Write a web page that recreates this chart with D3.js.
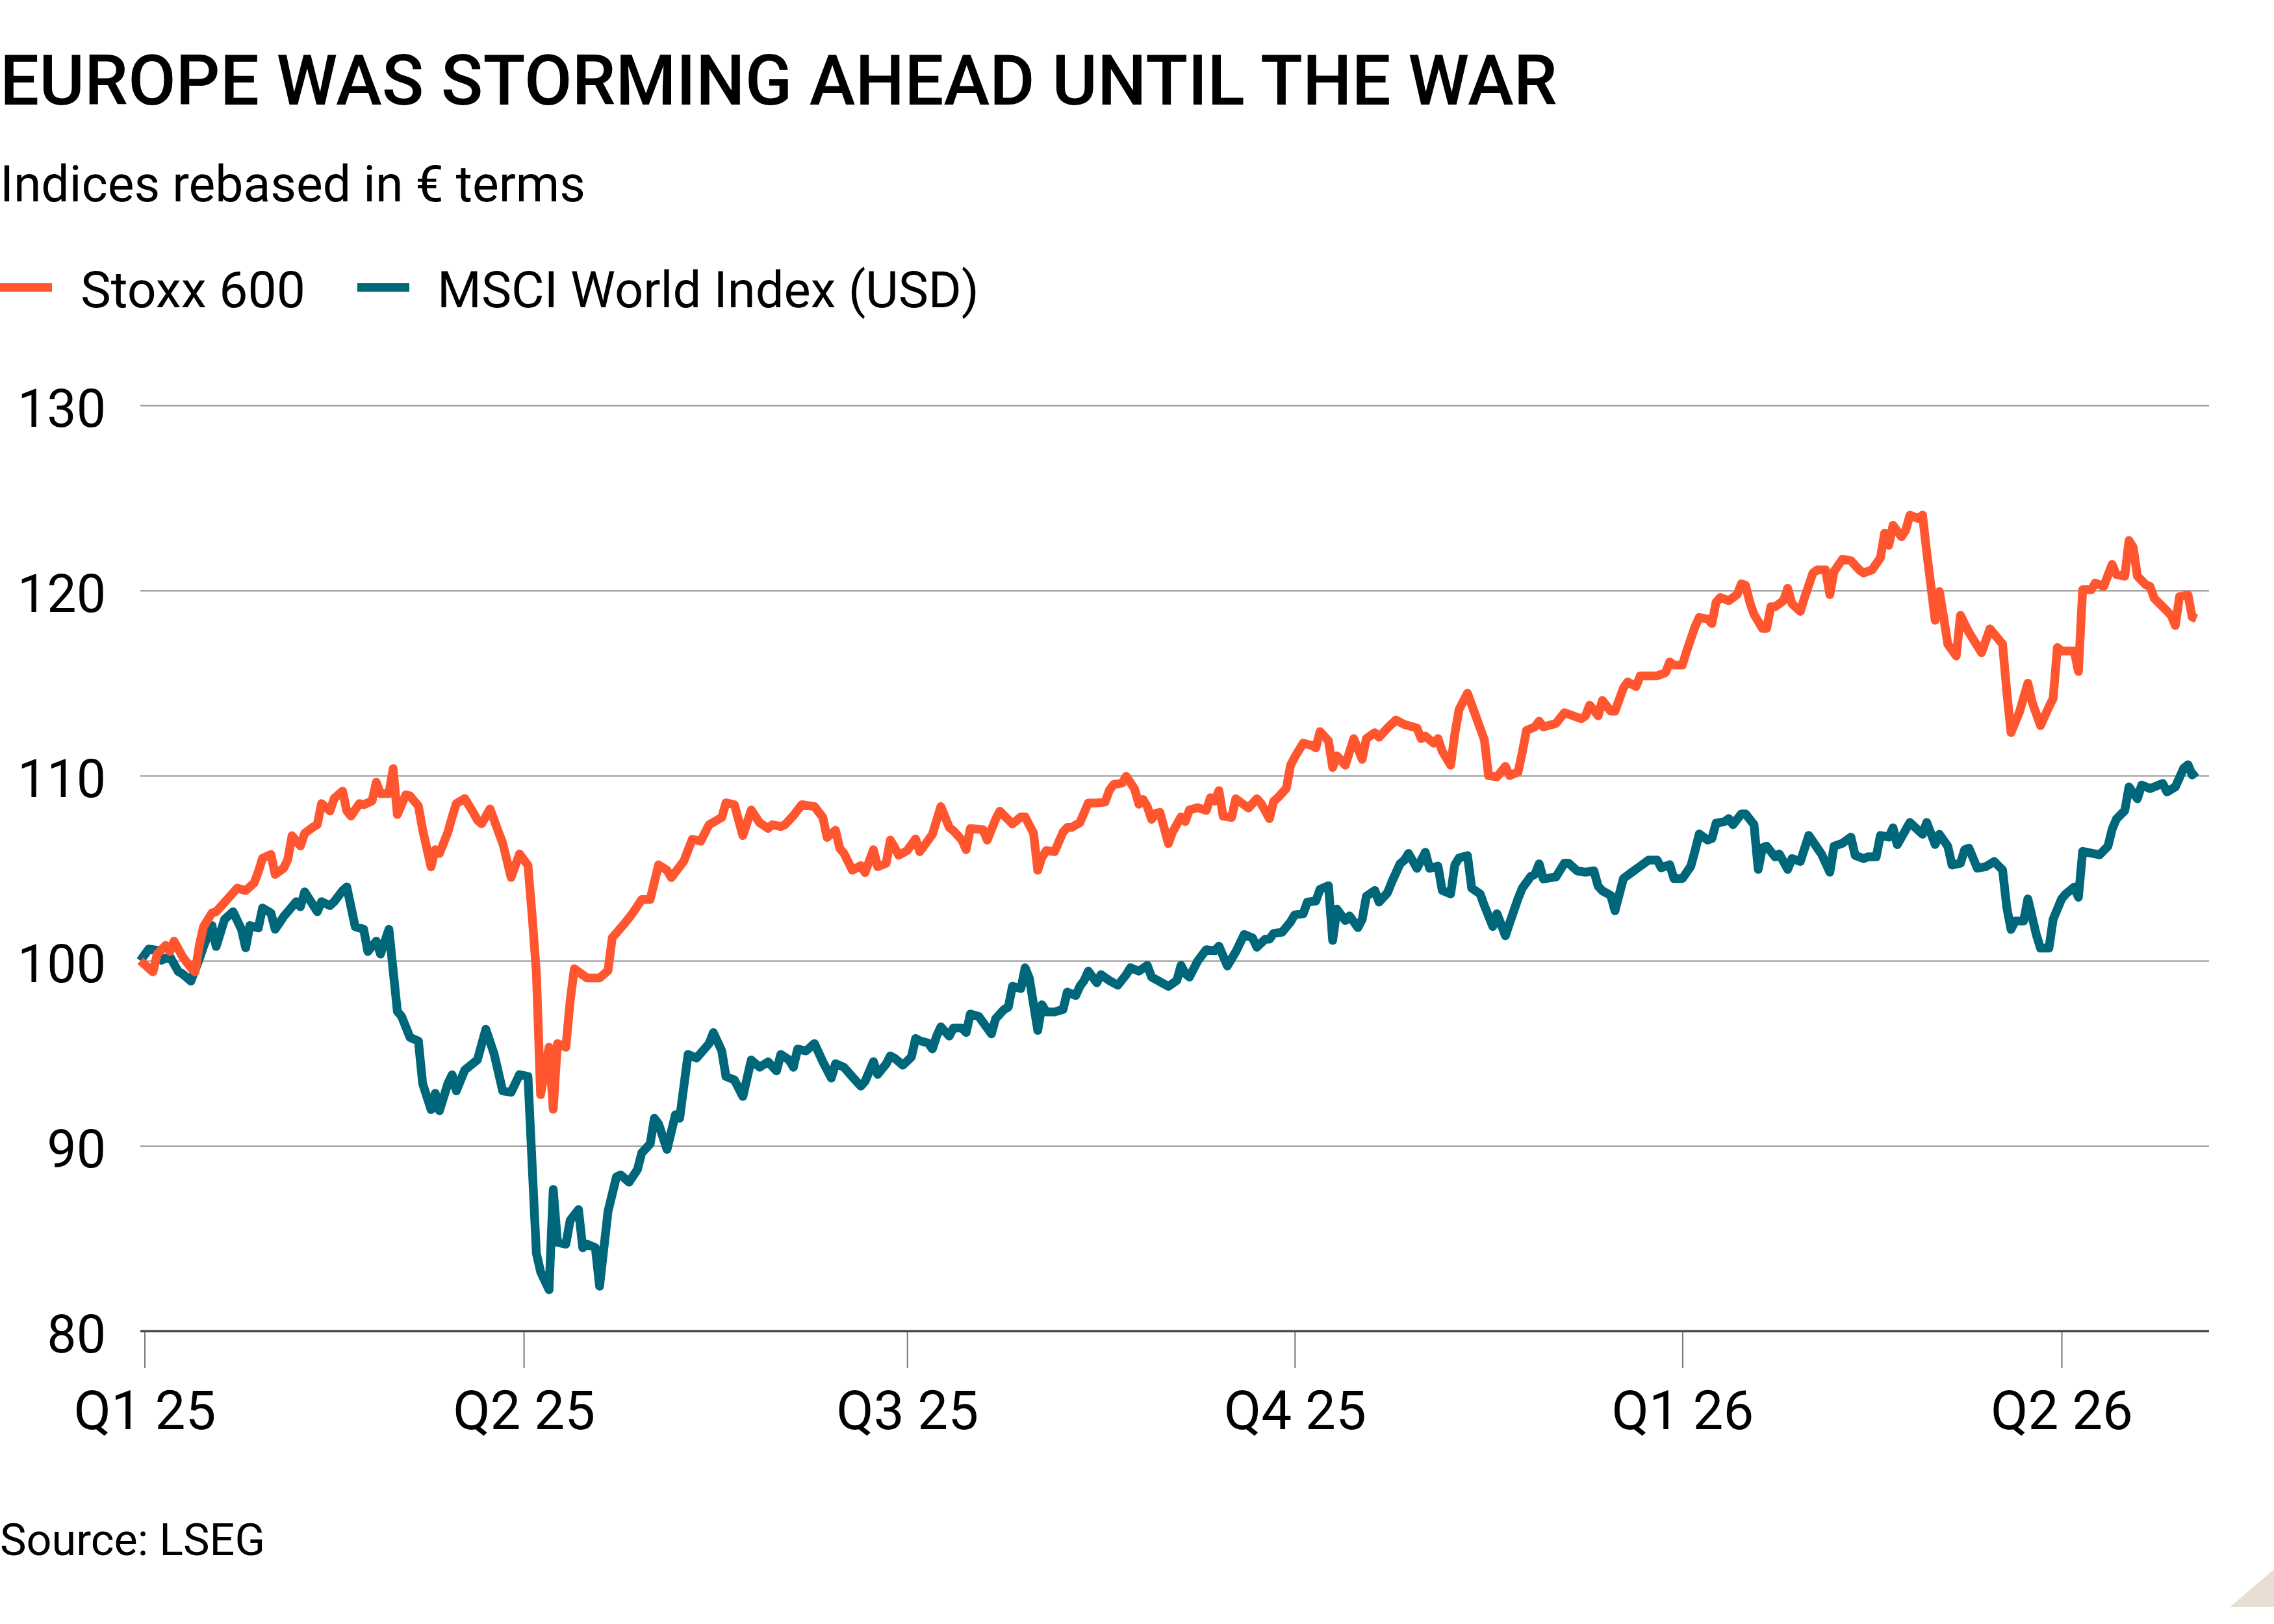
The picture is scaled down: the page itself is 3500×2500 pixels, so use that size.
<!DOCTYPE html>
<html><head><meta charset="utf-8">
<script src="https://cdn.jsdelivr.net/npm/d3@7"></script>
<style>
html,body{margin:0;padding:0;background:#fff;}
svg{display:block;}
text{font-family:Roboto,"Open Sans",sans-serif;fill:#000;}
</style></head><body>
<svg id="chart" width="3500" height="2500"></svg>
<script>
// ---------- DATA ----------
const titleText = "EUROPE WAS STORMING AHEAD UNTIL THE WAR";
const subtitleText = "Indices rebased in € terms";
const sourceText = "Source: LSEG";
const seriesNames = ["Stoxx 600", "MSCI World Index (USD)"];
const seriesColors = ["#ff5630", "#00677a"];

// day offsets counted from 1 Jan 2025
const stoxxDays = [
 -1,2,3,5,6,7,9,11,12,13,14,16,17,22,24,26,27,28,30,31,33,34,35,37,38,40,41,42,44,45,47,48,49,51,52,54,55,56,58,59,60,62,63,65,66,68,69,70,72,73,74,76,78,79,80,82,
 84,85,87,89,91,92,93,94,96,97,98,100,101,102,105,108,110,111,114,116,118,120,122,124,125,128,130,132,134,137,138,140,142,144,146,148,149,151,152,154,156,159,161,162,164,165,166,
 168,170,171,173,174,176,177,178,179,181,183,184,187,189,191,192,194,195,196,199,200,202,203,206,208,209,211,212,213,214,216,218,219,220,222,224,226,228,229,230,232,233,235,236,237,238,239,240,241,243,244,246,247,248,250,
 252,253,254,255,256,258,259,262,264,265,267,268,269,271,272,273,275,277,278,279,281,282,283,285,287,289,290,292,293,295,297,299,302,303,304,306,307,308,310,311,312,314,315,317,318,319,321,323,324,326,327,328,330,331,332,
 335,337,338,341,342,343,345,346,348,349,351,352,354,355,359,361,362,363,365,366,368,369,371,372,373,374,376,378,379,380,381,382,384,385,386,387,389,390,391,393,394,396,397,399,400,401,403,405,407,408,410,412,413,414,415,417,
 418,419,421,422,423,425,426,427,428,430,431,433,436,438,441,442,443,444,445,447,448,450,452,453,454,455,458,459,460,462,463,465,467,468,470,471,472,473,475,476,477,479,481,482,483,485,486,487
];
const stoxxValues = [
 100.0,99.4,100.36,100.83,100.5,101.06,100.23,99.62,99.4,100.83,101.84,102.58,102.65,103.92,103.79,104.2,104.8,105.54,105.74,104.66,105.0,105.47,106.75,106.2,106.88,107.22,107.35,108.49,108.09,108.76,109.17,108.09,107.82,108.49,108.43,108.63,109.64,109.03,109.03,110.38,107.9,108.96,108.9,108.36,107.08,105.07,106.0,105.8,106.95,107.76,108.49,108.76,108.02,107.6,107.4,108.2,
 106.96,106.36,104.5,105.77,105.15,102.42,99.37,92.77,95.33,91.98,95.53,95.33,97.79,99.57,99.07,99.07,99.47,101.24,102.03,102.62,103.31,103.31,105.18,104.89,104.49,105.38,106.56,106.46,107.35,107.74,108.53,108.43,106.76,108.14,107.45,107.15,107.35,107.25,107.35,107.84,108.43,108.33,107.74,106.66,107.05,106.07,105.8,
 104.89,105.14,104.76,106.0,105.08,105.26,106.52,106.14,105.7,105.95,106.58,105.89,106.83,108.33,107.2,107.02,106.52,106.0,107.14,107.08,106.52,107.64,108.08,107.39,107.77,107.77,106.89,104.89,105.58,105.95,105.89,106.95,107.2,107.2,107.46,108.52,108.52,108.58,109.21,109.52,109.59,109.96,109.27,108.46,108.71,108.33,107.64,107.96,108.02,106.33,106.95,107.77,107.52,108.15,108.27,
 108.12,108.81,108.62,109.19,107.81,107.74,108.75,108.25,108.75,108.5,107.68,108.62,108.81,109.31,110.56,111.0,111.75,111.63,111.5,112.38,111.88,110.44,111.07,110.56,112.0,110.88,112.0,112.32,112.07,112.57,113.0,112.76,112.57,112.0,112.13,111.75,112.0,111.32,110.56,112.26,113.57,114.45,113.82,112.57,111.94,110.0,109.94,110.5,110.0,110.19,111.25,112.44,112.63,112.94,112.63,
 112.82,113.4,113.32,113.07,113.23,113.81,113.23,114.06,113.48,113.48,114.73,115.06,114.81,115.39,115.39,115.56,116.14,115.97,115.97,116.72,118.04,118.54,118.46,118.21,119.37,119.62,119.45,119.78,120.36,120.28,119.37,118.71,117.96,117.96,119.12,119.12,119.45,120.12,119.29,118.87,119.62,120.95,121.11,121.11,119.78,121.03,121.69,121.61,121.11,120.95,121.11,121.77,123.1,122.44,123.52,122.9,
 123.25,124.07,123.89,124.07,122.06,118.39,119.94,118.57,117.1,116.46,118.66,117.74,116.64,117.93,117.1,114.53,112.33,112.88,113.43,114.99,113.98,112.7,113.71,114.17,116.92,116.73,116.73,115.63,120.04,120.04,120.4,120.22,121.41,120.86,120.77,122.7,122.33,120.77,120.31,120.22,119.58,119.12,118.66,118.11,119.67,119.76,118.57,118.48
];

const msciDays = [
 -1,1,3,4,6,8,9,11,13,14,16,17,19,21,23,24,25,27,28,30,31,33,34,36,37,38,41,42,44,45,47,48,50,52,53,55,56,58,60,61,63,65,66,68,69,70,72,73,74,76,79,81,
 83,85,87,89,91,92,93,94,96,97,98,100,101,103,104,105,107,108,110,112,113,115,117,118,120,121,122,124,126,127,129,131,134,135,137,138,140,142,144,146,148,150,151,153,154,155,157,159,161,163,164,166,
 168,170,171,173,174,176,177,178,180,182,183,184,186,187,188,189,191,192,194,195,196,198,201,202,204,205,206,208,209,210,212,213,214,216,218,219,221,222,223,224,226,227,229,231,233,234,236,238,239,243,245,246,247,248,250,
 252,254,255,257,259,261,263,264,266,267,268,270,272,273,275,276,278,279,281,282,283,285,286,288,289,290,292,293,295,296,298,299,300,302,304,305,307,308,310,311,312,314,315,317,318,320,321,323,324,326,327,329,330,331,332,
 335,337,338,340,342,344,345,346,348,349,351,353,355,357,359,360,362,363,365,367,368,369,371,372,373,375,376,377,379,380,382,383,384,385,387,388,390,391,393,395,397,398,400,401,403,405,406,408,409,411,412,414,415,416,
 419,422,423,425,426,428,429,431,432,433,435,437,439,441,442,443,444,446,447,449,450,452,453,455,456,458,459,460,464,466,467,468,470,471,473,474,476,479,480,482,484,485,486,487
];
const msciValues = [
 100.0,100.63,100.56,100.03,100.23,99.42,99.29,98.9,100.1,100.77,101.9,100.77,102.24,102.65,101.7,100.7,101.9,101.77,102.85,102.58,101.7,102.38,102.65,103.19,102.92,103.72,102.65,103.19,102.98,103.19,103.79,103.99,101.84,101.7,100.5,101.06,100.36,101.7,97.27,97.0,95.86,95.66,93.37,91.96,92.84,91.9,93.37,93.84,92.97,94.1,94.65,96.3,
 94.94,92.97,92.9,93.85,93.75,88.93,84.2,83.2,82.23,87.65,84.79,84.69,85.97,86.56,84.5,84.69,84.5,82.42,86.46,88.33,88.43,88.04,88.73,89.62,90.11,91.49,91.19,89.81,91.68,91.49,94.94,94.74,95.53,96.12,95.13,93.75,93.56,92.67,94.64,94.25,94.54,94.05,94.94,94.64,94.25,95.23,95.13,95.53,94.54,93.66,94.44,94.25,
 93.73,93.23,93.48,94.55,93.86,94.42,94.86,94.74,94.36,94.8,95.8,95.68,95.55,95.24,95.93,96.43,95.93,96.37,96.37,96.12,97.12,96.99,96.05,96.87,97.37,97.49,98.62,98.5,99.62,99.06,96.24,97.62,97.24,97.24,97.37,98.31,98.12,98.62,98.93,99.44,98.81,99.25,98.93,98.68,99.25,99.62,99.44,99.75,99.12,98.62,98.93,99.75,99.31,99.12,100.0,
 100.6,100.54,100.79,99.72,100.48,101.42,101.23,100.73,101.17,101.17,101.48,101.54,102.1,102.48,102.54,103.17,103.23,103.86,104.05,101.1,102.79,102.17,102.42,101.79,102.23,103.48,103.8,103.17,103.67,104.24,105.24,105.43,105.8,104.99,105.86,104.99,105.11,103.8,103.61,105.18,105.55,105.68,103.92,103.61,102.98,101.85,102.54,101.35,102.04,103.36,103.92,104.55,104.67,105.24,104.42,
 104.53,105.27,105.27,104.86,104.78,104.86,104.03,103.78,103.53,102.7,104.44,104.78,105.11,105.44,105.44,105.02,105.19,104.44,104.44,105.11,105.94,106.85,106.52,106.6,107.43,107.51,107.68,107.35,107.93,107.93,107.35,104.94,106.1,106.19,105.61,105.77,104.94,105.52,105.36,106.77,106.1,105.77,104.78,106.19,106.35,106.68,105.69,105.52,105.61,105.61,106.77,106.68,107.18,106.27,
 107.47,106.83,107.47,106.28,106.83,106.18,105.17,105.27,106.0,106.09,105.0,105.08,105.36,104.9,102.88,101.69,102.15,102.15,103.34,101.41,100.68,100.68,102.24,103.34,103.61,103.98,103.43,105.91,105.72,106.18,107.1,107.65,108.11,109.39,108.75,109.49,109.3,109.58,109.12,109.39,110.4,110.59,110.04,110.22
];

const yTicks = [80, 90, 100, 110, 120, 130];
const quarterStarts = ["2025-01-01","2025-04-01","2025-07-01","2025-10-01","2026-01-01","2026-04-01"];
const quarterLabels = ["Q1 25","Q2 25","Q3 25","Q4 25","Q1 26","Q2 26"];

// ---------- CHART ----------
const W = 3500, H = 2500;
const svg = d3.select("#chart");
svg.append("rect").attr("width", W).attr("height", H).attr("fill", "#fff");

const base = Date.UTC(2025, 0, 1), DAY = 864e5;
const toDate = d => new Date(base + d * DAY);
const plotL = 216, plotR = 3400, plotT = 624, plotB = 2049;

const x = d3.scaleUtc()
  .domain([new Date(Date.UTC(2024, 11, 31)), new Date(Date.UTC(2026, 4, 6))])
  .range([plotL, plotR]);
const y = d3.scaleLinear().domain([80, 130]).range([plotB, plotT]);

function fit(sel, target) {
  const w = sel.node().getComputedTextLength();
  const fs = parseFloat(sel.attr("font-size"));
  sel.attr("font-size", (fs * target / w).toFixed(2));
  return sel;
}

// title etc.
fit(svg.append("text").attr("x", 0).attr("y", 161).attr("font-size", 110)
  .attr("font-weight", 500).text(titleText), 2397);
fit(svg.append("text").attr("x", 0).attr("y", 310).attr("font-size", 66)
  .text(subtitleText), 901);

// legend
const legX = [0, 550], legLabelX = [124, 673], legW = [346, 834];
seriesNames.forEach((n, i) => {
  svg.append("rect").attr("x", legX[i]).attr("y", 436).attr("width", 80).attr("height", 13)
    .attr("fill", seriesColors[i]);
  fit(svg.append("text").attr("x", legLabelX[i]).attr("y", 473).attr("font-size", 70).text(n), legW[i]);
});

// y axis with gridlines
const yAxis = d3.axisLeft(y).tickValues(yTicks).tickSize(-(plotR - plotL)).tickPadding(53);
const gy = svg.append("g").attr("transform", `translate(${plotL},0)`).call(yAxis);
gy.select(".domain").remove();
gy.selectAll(".tick line").attr("stroke", d => d === 80 ? "#444" : "#8c8c8c")
  .attr("stroke-width", d => d === 80 ? 3 : 2);
gy.selectAll(".tick text").attr("dy", null).attr("y", 32)
  .attr("font-size", 76).attr("font-family", "Roboto,'Open Sans',sans-serif").attr("fill", "#000");
{
  const t = gy.selectAll(".tick text").filter(d => d === 130);
  const w = t.node().getComputedTextLength();
  const fs = 76 * 136 / w;
  gy.selectAll(".tick text").attr("font-size", fs.toFixed(2));
}

// x axis
const qDates = quarterStarts.map(s => new Date(s + "T00:00:00Z"));
const xAxis = d3.axisBottom(x).tickValues(qDates).tickFormat((d, i) => quarterLabels[i]).tickSize(57);
const gx = svg.append("g").attr("transform", `translate(0,${plotB})`).call(xAxis);
gx.select(".domain").remove();
gx.selectAll(".tick line").attr("stroke", "#777").attr("stroke-width", 2);
gx.selectAll(".tick text").attr("dy", null).attr("y", 151)
  .attr("font-size", 76).attr("font-family", "Roboto,'Open Sans',sans-serif").attr("fill", "#000");
{
  const t = gx.select(".tick text");
  const w = t.node().getComputedTextLength();
  const fs = 76 * 219 / w;
  gx.selectAll(".tick text").attr("font-size", fs.toFixed(2));
}
svg.append("line").attr("x1", plotL).attr("x2", plotR).attr("y1", y(80)).attr("y2", y(80))
  .attr("stroke", "#444").attr("stroke-width", 3);

// lines
const line = d3.line().x(d => x(d.date)).y(d => y(d.value)).curve(d3.curveLinear);
const msci = msciDays.map((d, i) => ({date: toDate(d), value: msciValues[i]}));
const stoxx = stoxxDays.map((d, i) => ({date: toDate(d), value: stoxxValues[i]}));
[[msci, seriesColors[1]], [stoxx, seriesColors[0]]].forEach(([data, c]) => {
  svg.append("path").datum(data).attr("d", line).attr("fill", "none")
    .attr("stroke", c).attr("stroke-width", 13.5)
    .attr("stroke-linejoin", "round").attr("stroke-linecap", "butt");
});

// source
fit(svg.append("text").attr("x", 0).attr("y", 2394).attr("font-size", 64).text(sourceText), 408);

// corner mark
svg.append("path").attr("d", "M3432,2474L3500,2474L3500,2416Z").attr("fill", "#e8ddd3");
</script>
</body></html>
